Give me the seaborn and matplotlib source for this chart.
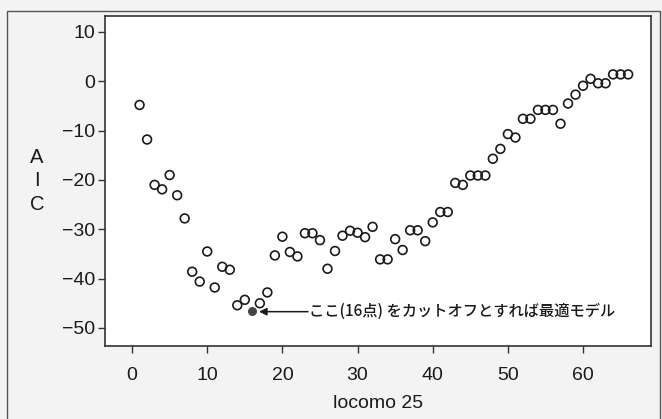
import numpy as np
import pandas as pd
import matplotlib
matplotlib.use("Agg")
import matplotlib.pyplot as plt
import seaborn as sns
from matplotlib.patches import Rectangle

# カットオフ値 (locomo 25) と AIC
cutoff = list(range(1, 67))
aic = [-4.8, -11.8, -21.0, -21.9, -19.0, -23.1, -27.8, -38.6, -40.6, -34.5,
       -41.8, -37.6, -38.2, -45.4, -44.3, -46.5, -45.0, -42.8, -35.3, -31.5,
       -34.6, -35.5, -30.8, -30.8, -32.2, -38.0, -34.4, -31.3, -30.3, -30.7,
       -31.6, -29.5, -36.1, -36.1, -32.0, -34.2, -30.2, -30.2, -32.4, -28.6,
       -26.5, -26.5, -20.6, -21.0, -19.1, -19.1, -19.1, -15.7, -13.7, -10.7,
       -11.4, -7.6, -7.6, -5.8, -5.8, -5.8, -8.6, -4.5, -2.7, -0.9,
       0.5, -0.4, -0.4, 1.4, 1.4, 1.4]
best_cutoff = 16
x_ticks = [0, 10, 20, 30, 40, 50, 60]
y_ticks = [10, 0, -10, -20, -30, -40, -50]
note = "ここ(16点) をカットオフとすれば最適モデル"

df = pd.DataFrame({"cutoff": cutoff, "AIC": aic})
best = df[df["cutoff"] == best_cutoff]
others = df[df["cutoff"] != best_cutoff]

sns.set_style("ticks")
plt.rcParams["font.family"] = ["Liberation Sans", "Noto Sans CJK JP", "DejaVu Sans"]

fig = plt.figure(figsize=(6.62, 4.19), dpi=100, facecolor="#f3f3f3")
ax = fig.add_axes([105 / 662, 1 - 345.7 / 419, (650.7 - 105) / 662, (345.7 - 15.7) / 419])
ax.set_facecolor("white")

sns.scatterplot(data=others, x="cutoff", y="AIC", ax=ax, marker="o", s=40,
                facecolors="none", edgecolor="#1a1a1a", linewidth=1.2)
sns.scatterplot(data=best, x="cutoff", y="AIC", ax=ax, marker="o", s=32,
                color="#444444", edgecolor="#444444", linewidth=0.8)

ax.set_xlim(-3.6, 69.0)
ax.set_ylim(-53.6, 13.3)
ax.set_xticks(x_ticks)
ax.set_yticks(y_ticks)
ax.set_yticklabels([str(v).replace("-", "\u2212") for v in y_ticks])
ax.tick_params(axis="both", labelsize=14, length=5, width=1.0, color="#333333",
               labelcolor="#1a1a1a")
ax.tick_params(axis="x", pad=10)
ax.tick_params(axis="y", pad=2)
for side in ["top", "right", "left", "bottom"]:
    ax.spines[side].set_visible(True)
    ax.spines[side].set_linewidth(1.2)
    ax.spines[side].set_color("#333333")

ax.set_xlabel("locomo 25", fontsize=14, color="#1a1a1a", labelpad=8)
ax.set_ylabel("A\nI\nC", fontsize=14.5, color="#1a1a1a", rotation=0,
              linespacing=1.3, va="center", labelpad=18)

# 矢印と注記
ax.annotate("", xy=(best_cutoff + 0.9, -46.7), xytext=(23.4, -46.7),
            arrowprops=dict(arrowstyle="-|>", color="#1a1a1a", lw=1.1,
                            mutation_scale=11, shrinkA=0, shrinkB=0))
ax.text(23.5, -46.7, note, fontsize=11, va="center", ha="left", weight="medium",
        color="#1a1a1a", family=["Noto Sans CJK JP", "DejaVu Sans"])

# 外枠
fig.patches.append(Rectangle((7 / 662, -0.01), (660 - 7) / 662, 1 - 11.5 / 419 + 0.01,
                             transform=fig.transFigure, fill=False,
                             edgecolor="#555555", linewidth=1.0))

fig.savefig("out.png", dpi=100, facecolor=fig.get_facecolor())
